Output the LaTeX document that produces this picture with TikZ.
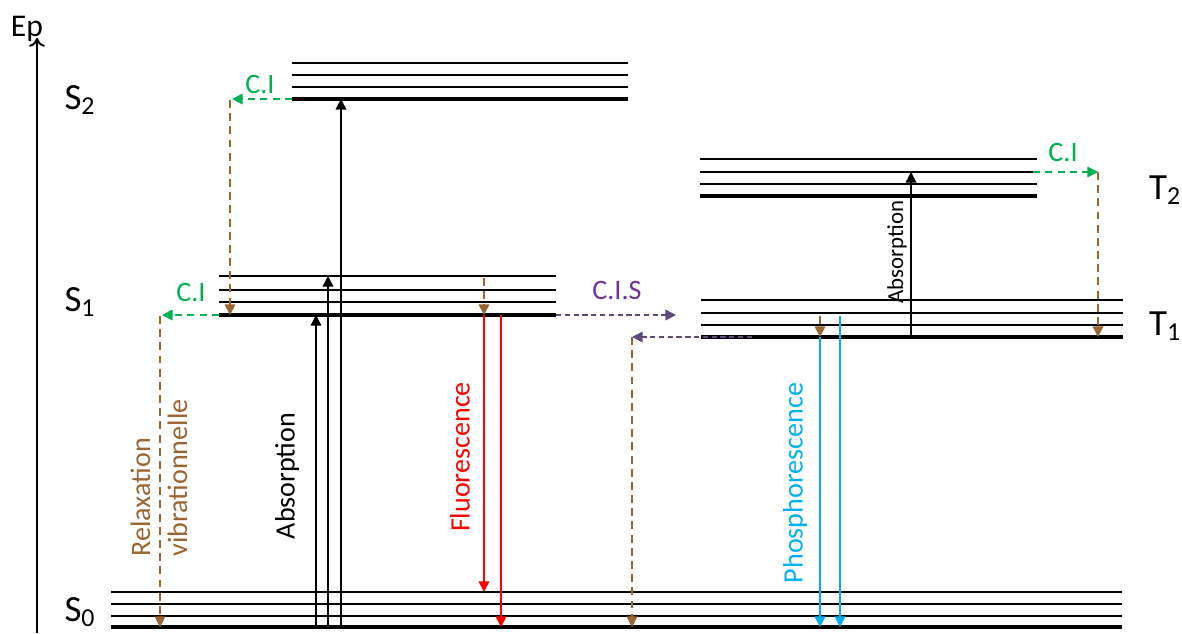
\documentclass[tikz,border=0pt]{standalone}
\usepackage{fontspec}
\setmainfont{Carlito}
\usetikzlibrary{arrows.meta}
\definecolor{ciGreen}{RGB}{0,176,80}
\definecolor{rvBrown}{RGB}{153,102,51}
\definecolor{cisPurple}{RGB}{112,48,160}
\definecolor{cisLine}{RGB}{96,74,123}
\definecolor{phosBlue}{RGB}{0,176,240}
\tikzset{
  thinlvl/.style={line width=1.1pt},
  thicklvl/.style={line width=2.8pt},
  tri/.style={-{Triangle[length=6pt,width=6pt]}},
  absarrow/.style={tri, line width=0.9pt, black},
  rvarrow/.style={tri, line width=0.9pt, rvBrown, dash pattern=on 4.5pt off 3pt},
  ciarrow/.style={tri, line width=0.9pt, ciGreen, dash pattern=on 4pt off 3pt},
  cisarrow/.style={tri, line width=0.9pt, cisLine, dash pattern=on 3pt off 2pt},
  lbl/.style={font=\fontsize{16}{21}\selectfont, inner sep=0pt},
  statelbl/.style={font=\fontsize{21}{25}\selectfont, inner sep=0pt},
}
\begin{document}
\begin{tikzpicture}[x=0.02cm,y=-0.02cm]
\useasboundingbox (0,0) rectangle (1182,633);

\coordinate (axbot) at (37,633);
\coordinate (axtop) at (37,38);
\draw[-{To[length=5pt,width=9pt]}, line width=1.1pt] (axbot) -- (axtop);
\node[font=\fontsize{18}{21}\selectfont, inner sep=0pt, anchor=base] (ep) at (27,36) {Ep};

\node[statelbl] (s2) at (80,100) {S\textsubscript{2}};
\node[statelbl] (s1) at (80,302) {S\textsubscript{1}};
\node[statelbl] (s0) at (80,612) {S\textsubscript{0}};
\node[statelbl] (t2) at (1165,190) {T\textsubscript{2}};
\node[statelbl] (t1) at (1165,326) {T\textsubscript{1}};

\foreach \y in {592,604,616} \draw[thinlvl] (111,\y) -- (1122,\y);
\draw[thicklvl] (111,627) -- (1122,627);
\foreach \y in {276,290,302} \draw[thinlvl] (219,\y) -- (556,\y);
\draw[thicklvl] (219,315) -- (556,315);
\foreach \y in {63,75,87} \draw[thinlvl] (292,\y) -- (628,\y);
\draw[thicklvl] (292,99) -- (628,99);
\foreach \y in {159,172,184} \draw[thinlvl] (700,\y) -- (1037,\y);
\draw[thicklvl] (700,196) -- (1037,196);
\foreach \y in {300,313,325} \draw[thinlvl] (701,\y) -- (1123,\y);
\draw[thicklvl] (701,337) -- (1123,337);

\coordinate (a1b) at (316,627); \coordinate (a1t) at (316,315);
\coordinate (a2b) at (328,627); \coordinate (a2t) at (328,276);
\coordinate (a3b) at (341,627); \coordinate (a3t) at (341,99);
\draw[absarrow] (a1b) -- (a1t);
\draw[absarrow] (a2b) -- (a2t);
\draw[absarrow] (a3b) -- (a3t);
\node[lbl, rotate=90] (abs) at (287,476) {Absorption};

\coordinate (ci2a) at (292,99); \coordinate (ci2b) at (232,99);
\coordinate (rv2a) at (230,100); \coordinate (rv2b) at (230,315);
\draw[ciarrow] (ci2a) -- (ci2b);
\node[lbl, text=ciGreen] (ci2) at (260,84) {C.I};
\draw[rvarrow] (rv2a) -- (rv2b);

\coordinate (ci1a) at (219,315); \coordinate (ci1b) at (162,315);
\coordinate (rv1a) at (160,316); \coordinate (rv1b) at (160,627);
\draw[ciarrow] (ci1a) -- (ci1b);
\node[lbl, text=ciGreen] (ci1) at (191,292) {C.I};
\draw[rvarrow] (rv1a) -- (rv1b);
\node[lbl, text=rvBrown, rotate=90, align=left] (rv) at (159,478) {Relaxation\\vibrationnelle};

\coordinate (fra) at (484,278); \coordinate (frb) at (484,315);
\coordinate (fl1b) at (484,592); \coordinate (fl2a) at (501,315); \coordinate (fl2b) at (501,627);
\draw[rvarrow] (fra) -- (frb);
\draw[tri, line width=0.9pt, red] (frb) -- (fl1b);
\draw[tri, line width=0.9pt, red] (fl2a) -- (fl2b);
\node[lbl, text=red, rotate=90] (fluo) at (460,457) {Fluorescence};

\coordinate (cisa) at (556,315); \coordinate (cisb) at (676,315);
\coordinate (cisc) at (752,337); \coordinate (cisd) at (632,337);
\coordinate (rvt) at (632,627);
\draw[cisarrow] (cisa) -- (cisb);
\node[lbl, text=cisPurple] (cis) at (617,290) {C.I.S};
\draw[cisarrow] (cisc) -- (cisd);
\draw[rvarrow] (cisd) -- (rvt);

\coordinate (pra) at (820,316); \coordinate (prb) at (820,337);
\coordinate (ph1b) at (820,627); \coordinate (ph2a) at (840,316); \coordinate (ph2b) at (840,627);
\draw[rvarrow] (pra) -- (prb);
\draw[tri, line width=0.9pt, phosBlue] (prb) -- (ph1b);
\draw[tri, line width=0.9pt, phosBlue] (ph2a) -- (ph2b);
\node[lbl, text=phosBlue, rotate=90] (phos) at (795,483) {Phosphorescence};

\coordinate (at2b) at (911,337); \coordinate (at2t) at (911,172);
\draw[absarrow] (at2b) -- (at2t);
\node[inner sep=0pt, font=\fontsize{13}{15}\selectfont, rotate=90] (abst) at (897,252) {Absorption};

\coordinate (cit2a) at (1033,172); \coordinate (cit2b) at (1098,172);
\coordinate (rvt2) at (1098,337);
\draw[ciarrow] (cit2a) -- (cit2b);
\node[lbl, text=ciGreen] (cit2) at (1063,152) {C.I};
\draw[rvarrow] (cit2b) -- (rvt2);
\end{tikzpicture}
\end{document}
